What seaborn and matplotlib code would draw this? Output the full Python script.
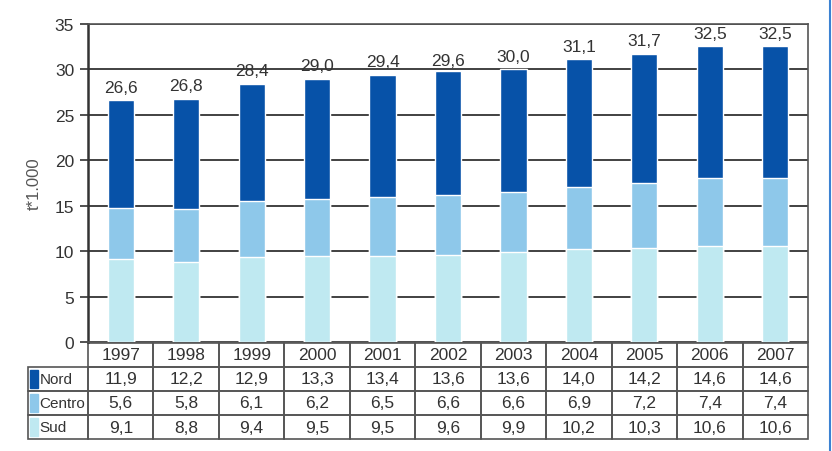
import matplotlib
matplotlib.use('Agg')
import matplotlib.pyplot as plt
import seaborn as sns
import pandas as pd
from matplotlib.patches import Rectangle
from matplotlib.lines import Line2D
from matplotlib.table import Table

# dati (t*1.000)
anni = ['1997', '1998', '1999', '2000', '2001', '2002', '2003', '2004', '2005', '2006', '2007']
nord = [11.9, 12.2, 12.9, 13.3, 13.4, 13.6, 13.6, 14.0, 14.2, 14.6, 14.6]
centro = [5.6, 5.8, 6.1, 6.2, 6.5, 6.6, 6.6, 6.9, 7.2, 7.4, 7.4]
sud = [9.1, 8.8, 9.4, 9.5, 9.5, 9.6, 9.9, 10.2, 10.3, 10.6, 10.6]
totali = [26.6, 26.8, 28.4, 29.0, 29.4, 29.6, 30.0, 31.1, 31.7, 32.5, 32.5]

colori = {'Nord': '#0752a8', 'Centro': '#8ec8ea', 'Sud': '#bfe9f1'}

sns.set_style('white')
plt.rcParams['font.family'] = ['Liberation Sans', 'DejaVu Sans']

df = pd.DataFrame({'anno': anni, 'Nord': nord, 'Centro': centro, 'Sud': sud})
df['cum_sud'] = df['Sud']
df['cum_centro'] = df['Sud'] + df['Centro']
df['cum_nord'] = df['cum_centro'] + df['Nord']

fig = plt.figure(figsize=(8.32, 4.52), dpi=100)
ax = fig.add_axes([0.1058, 0.241, 0.8654, 0.7037])

# barre impilate: dall'alto verso il basso
sns.barplot(data=df, x='anno', y='cum_nord', color=colori['Nord'], width=0.4,
            saturation=1, ax=ax, zorder=3)
sns.barplot(data=df, x='anno', y='cum_centro', color=colori['Centro'], width=0.4,
            saturation=1, ax=ax, zorder=3)
sns.barplot(data=df, x='anno', y='cum_sud', color=colori['Sud'], width=0.4,
            saturation=1, ax=ax, zorder=3)

# etichette dei totali
for i, t in enumerate(totali):
    ax.annotate(f'{t:.1f}'.replace('.', ','), (i, t), xytext=(0, 4),
                textcoords='offset points', ha='center', va='bottom',
                fontsize=12.5, color='#333333')

ax.set_ylim(0, 35)
ax.set_xlim(-0.5, len(anni) - 0.5)
ax.set_yticks(range(0, 36, 5))
ax.tick_params(axis='y', labelsize=12.5, labelcolor='#333333', length=6,
               width=1.2, color='#333333', direction='out', left=True, pad=4)
ax.set_xticks([])
ax.set_xlabel('')
ax.set_ylabel('t*1.000', fontsize=12, color='#555555', labelpad=9)
ax.grid(axis='y', color='#333333', linewidth=1.3, zorder=0)
for s in ax.spines.values():
    s.set_color('#555555')
    s.set_linewidth(1.2)
ax.spines['left'].set_color('#333333')
ax.spines['left'].set_linewidth(1.8)

# tabella dati sotto il grafico
righe = ['Nord', 'Centro', 'Sud']
celle = [[f'{v:.1f}'.replace('.', ',') for v in serie] for serie in (nord, centro, sud)]
lab_w = 0.083
col_w = 1 / len(anni)
row_h = 0.075
tab = Table(ax, bbox=[-lab_w, -0.305, 1 + lab_w, 0.303])
for j, a in enumerate(anni):
    tab.add_cell(0, j + 1, col_w, row_h, text=a, loc='center')
for i, nome in enumerate(righe):
    tab.add_cell(i + 1, 0, lab_w, row_h, text=nome, loc='left')
    for j, v in enumerate(celle[i]):
        tab.add_cell(i + 1, j + 1, col_w, row_h, text=v, loc='center')
tab.auto_set_font_size(False)
for (r, c), cell in tab.get_celld().items():
    cell.set_edgecolor('#555555')
    cell.set_linewidth(1.2)
    cell.set_facecolor('none')
    cell.get_text().set_color('#333333')
    if c == 0:
        cell.PAD = 0.19
        cell.get_text().set_fontsize(11)
    else:
        cell.get_text().set_fontsize(12.5)
ax.add_table(tab)

# quadratini colorati della legenda nella tabella
fig.canvas.draw()
inv = ax.transAxes.inverted()
for r, nome in enumerate(righe, start=1):
    bb = tab[r, 0].get_window_extent(fig.canvas.get_renderer())
    (x0, y0), (x1, y1) = inv.transform([[bb.x0, bb.y0], [bb.x1, bb.y1]])
    h = y1 - y0
    ax.add_patch(Rectangle((x0 + 0.003, y0 + h * 0.12), 0.011, h * 0.76,
                           transform=ax.transAxes, color=colori[nome],
                           clip_on=False, zorder=5))

fig.add_artist(Line2D([0.997, 0.997], [0, 1], color='#3c82d2', linewidth=1.5))

fig.savefig('out.png', dpi=100)
